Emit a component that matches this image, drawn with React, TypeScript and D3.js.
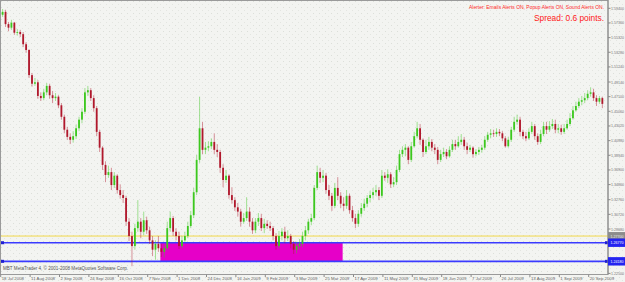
import React from 'react';
import * as d3 from 'd3';

const firstOpen = 1.585;
const closes = [
1.589,1.572,1.567,1.574,1.560,1.561,1.558,1.544,1.536,1.501,
1.489,1.491,1.472,1.469,1.477,1.486,1.473,1.469,1.471,1.459,
1.443,1.425,1.415,1.411,1.416,1.427,1.439,1.450,1.477,1.480,
1.469,1.455,1.422,1.400,1.376,1.362,1.366,1.348,1.361,1.341,
1.334,1.330,1.297,1.277,1.263,1.288,1.297,1.283,1.299,1.285,
1.271,1.258,1.266,1.260,1.255,1.260,1.288,1.302,1.283,1.277,
1.263,1.271,1.277,1.291,1.306,1.338,1.383,1.427,1.397,1.400,
1.402,1.408,1.397,1.394,1.372,1.355,1.361,1.334,1.327,1.317,
1.311,1.297,1.302,1.311,1.297,1.285,1.297,1.302,1.288,1.294,
1.291,1.288,1.277,1.263,1.277,1.283,1.274,1.277,1.266,1.258,
1.263,1.266,1.277,1.285,1.297,1.302,1.344,1.366,1.358,1.361,
1.341,1.333,1.319,1.344,1.333,1.322,1.319,1.333,1.313,1.302,
1.294,1.308,1.316,1.322,1.330,1.334,1.338,1.341,1.333,1.361,
1.358,1.363,1.349,1.352,1.369,1.391,1.397,1.400,1.383,1.402,
1.416,1.427,1.411,1.394,1.402,1.408,1.400,1.397,1.383,1.391,
1.394,1.388,1.397,1.405,1.402,1.408,1.411,1.402,1.397,1.400,
1.391,1.394,1.397,1.400,1.411,1.418,1.420,1.419,1.422,1.420,
1.413,1.402,1.411,1.425,1.436,1.439,1.422,1.416,1.413,1.422,
1.430,1.416,1.408,1.419,1.430,1.425,1.430,1.433,1.425,1.427,
1.422,1.427,1.433,1.441,1.452,1.458,1.464,1.466,1.469,1.475,
1.477,1.469,1.464,1.469,1.461];
const highs = [
1.593,1.592,1.575,1.578,1.575,1.565,1.564,1.561,1.547,1.537,
1.504,1.497,1.494,1.477,1.482,1.490,1.489,1.479,1.476,1.473,
1.462,1.446,1.429,1.420,1.423,1.432,1.443,1.455,1.483,1.486,
1.483,1.473,1.458,1.425,1.402,1.381,1.375,1.372,1.366,1.363,
1.349,1.341,1.333,1.302,1.283,1.294,1.327,1.302,1.311,1.304,
1.290,1.277,1.271,1.277,1.266,1.265,1.297,1.311,1.305,1.288,
1.283,1.277,1.283,1.297,1.312,1.344,1.390,1.471,1.436,1.408,
1.409,1.413,1.420,1.405,1.397,1.377,1.369,1.363,1.345,1.331,
1.323,1.315,1.309,1.331,1.317,1.302,1.302,1.309,1.308,1.301,
1.299,1.297,1.291,1.281,1.284,1.288,1.290,1.285,1.280,1.270,
1.269,1.273,1.283,1.291,1.301,1.308,1.348,1.375,1.372,1.369,
1.365,1.348,1.337,1.351,1.359,1.338,1.331,1.341,1.336,1.319,
1.308,1.313,1.323,1.329,1.334,1.340,1.344,1.348,1.345,1.369,
1.366,1.370,1.366,1.359,1.375,1.397,1.402,1.405,1.402,1.408,
1.422,1.436,1.433,1.413,1.411,1.415,1.412,1.405,1.401,1.397,
1.400,1.398,1.402,1.411,1.411,1.416,1.419,1.415,1.407,1.404,
1.402,1.398,1.401,1.404,1.416,1.422,1.426,1.425,1.427,1.426,
1.423,1.416,1.415,1.429,1.443,1.446,1.443,1.425,1.422,1.427,
1.436,1.433,1.420,1.425,1.436,1.436,1.437,1.440,1.439,1.433,
1.432,1.433,1.439,1.448,1.458,1.464,1.469,1.472,1.476,1.480,
1.484,1.482,1.473,1.472,1.471];
const lows = [
1.582,1.568,1.562,1.564,1.557,1.556,1.554,1.540,1.532,1.497,
1.485,1.486,1.468,1.465,1.466,1.473,1.468,1.462,1.465,1.455,
1.439,1.420,1.411,1.405,1.407,1.412,1.423,1.434,1.447,1.472,
1.465,1.450,1.416,1.394,1.369,1.352,1.358,1.341,1.344,1.336,
1.329,1.323,1.291,1.270,1.235,1.258,1.283,1.274,1.278,1.280,
1.266,1.249,1.244,1.255,1.248,1.247,1.258,1.283,1.277,1.271,
1.259,1.260,1.269,1.274,1.288,1.302,1.334,1.379,1.391,1.391,
1.395,1.398,1.391,1.387,1.365,1.345,1.351,1.329,1.322,1.312,
1.304,1.290,1.294,1.298,1.290,1.280,1.281,1.291,1.284,1.281,
1.287,1.284,1.271,1.258,1.260,1.271,1.267,1.270,1.260,1.252,
1.253,1.258,1.262,1.271,1.280,1.292,1.299,1.341,1.351,1.352,
1.336,1.327,1.312,1.316,1.327,1.316,1.312,1.315,1.308,1.297,
1.288,1.290,1.304,1.312,1.317,1.324,1.329,1.333,1.327,1.330,
1.354,1.351,1.344,1.345,1.348,1.366,1.387,1.388,1.377,1.380,
1.400,1.413,1.404,1.387,1.391,1.397,1.395,1.391,1.377,1.380,
1.387,1.384,1.386,1.394,1.397,1.400,1.404,1.397,1.391,1.394,
1.386,1.388,1.390,1.393,1.397,1.408,1.413,1.415,1.415,1.416,
1.409,1.400,1.400,1.408,1.422,1.432,1.416,1.412,1.409,1.411,
1.419,1.411,1.404,1.405,1.416,1.419,1.422,1.426,1.420,1.420,
1.418,1.419,1.425,1.430,1.439,1.450,1.455,1.459,1.462,1.466,
1.471,1.465,1.458,1.461,1.455];

const dateLabels = ['18 Jul 2008','11 Aug 2008','2 Sep 2008','24 Sep 2008','16 Oct 2008','7 Nov 2008','1 Dec 2008','24 Dec 2008','16 Jan 2009','9 Feb 2009','3 Mar 2009','25 Mar 2009','17 Apr 2009','11 May 2009','31 May 2009','18 Jun 2009','7 Jul 2009','26 Jul 2009','13 Aug 2009','1 Sep 2009','20 Sep 2009'];
const barsPerLabel = 10;
const priceTicks = [1.594,1.5736,1.5532,1.5328,1.5124,1.4914,1.471,1.4506,1.4302,1.4098,1.3894,1.369,1.3486,1.3276,1.3072,1.2868];
const bottomTick = 1.225;
const yellowLevel = 1.277;
const blueLevels = [1.2677, 1.2418];
const zoneBars = [54, 116];
const zonePrices = [1.2677, 1.2418];
const alertText = 'Alerter:  Emails Alerts ON,  Popup Alerts ON,  Sound Alerts ON.';
const spreadText = 'Spread: 0.6 points.';
const copyright = 'MBT MetaTrader 4, \u00A9 2001-2008 MetaQuotes Software Corp.';

const W = 625, H = 282;
const plotRight = 608, plotBottom = 274.5;
const FONT = '"Liberation Sans", Arial, sans-serif';

export default function App() {
  const x = d3.scaleLinear().domain([0, 200]).range([2.6, 590.6]);
  const y = d3.scaleLinear().domain([1.225, 1.594]).range([273.4, 8.3]);
  const opens = [firstOpen, ...closes.slice(0, -1)];
  const bull = '#3cc81e', bear = '#b0182c';
  const fmt = d3.format('.5f');
  return (
    <svg width={W} height={H} style={{ position: 'absolute', left: 0, top: 0 }} fontFamily={FONT}>
      <defs>
        <pattern id="dots" width="6" height="6" patternUnits="userSpaceOnUse">
          <rect width="6" height="6" fill="#f3f4f1" />
          <rect x="1" y="1" width="1" height="1" fill="#dcdfd9" />
          <rect x="4" y="4" width="1" height="1" fill="#e3e5e0" />
        </pattern>
      </defs>
      <rect width={W} height={H} fill="url(#dots)" />
      <rect x={0.5} y={0.5} width={plotRight - 0.5} height={plotBottom - 0.5} fill="none" stroke="#9a9a9a" strokeWidth={1} />
      <rect x={x(zoneBars[0]) - 1} y={y(zonePrices[0])} width={x(zoneBars[1]) - x(zoneBars[0])} height={y(zonePrices[1]) - y(zonePrices[0])} fill="#e600c8" />
      <line x1={1} x2={plotRight} y1={y(yellowLevel)} y2={y(yellowLevel)} stroke="#f2d84a" strokeWidth={1} />
      {blueLevels.map((v, i) => (
        <g key={i}>
          <line x1={1} x2={plotRight} y1={y(v)} y2={y(v)} stroke="#3a3aff" strokeWidth={1.6} />
          <rect x={1} y={y(v) - 1.5} width={3} height={3} fill="#2020d0" />
          <rect x={plotRight - 3} y={y(v) - 1.5} width={3} height={3} fill="#2020d0" />
        </g>
      ))}
      {closes.map((c, i) => {
        const o = opens[i];
        const up = c >= o;
        const col = up ? bull : bear;
        const cx = x(i);
        const top = y(Math.max(o, c));
        const bot = y(Math.min(o, c));
        return (
          <g key={i}>
            <line x1={cx} x2={cx} y1={y(highs[i])} y2={y(lows[i])} stroke={col} strokeOpacity={0.45} strokeWidth={1} />
            <rect x={cx - 0.9} y={top} width={1.8} height={Math.max(0.8, bot - top)} fill={col} />
          </g>
        );
      })}
      <line x1={plotRight} x2={plotRight} y1={0} y2={plotBottom} stroke="#8a8a8a" strokeWidth={1} />
      {[...priceTicks, bottomTick].map((v, i) => (
        <g key={i}>
          <line x1={plotRight} x2={plotRight + 2.5} y1={y(v)} y2={y(v)} stroke="#8a8a8a" />
          <text x={611} y={y(v) + 1.5} fontSize={4.1} fill="#777" textLength={13} lengthAdjust="spacingAndGlyphs">{fmt(v)}</text>
        </g>
      ))}
      <rect x={plotRight} y={y(yellowLevel) - 4} width={17} height={7.5} fill="#8c8c8c" />
      <text x={610.5} y={y(yellowLevel) + 1.5} fontSize={4.1} fill="#e8e8e8" textLength={13} lengthAdjust="spacingAndGlyphs">{fmt(yellowLevel)}</text>
      {blueLevels.map((v, i) => (
        <g key={'t' + i}>
          <rect x={plotRight} y={y(v) - 4.2} width={17} height={8.4} fill="#2424f0" />
          <text x={610.5} y={y(v) + 1.6} fontSize={4.3} fill="#ffffff" textLength={13} lengthAdjust="spacingAndGlyphs">{fmt(v)}</text>
        </g>
      ))}
      {dateLabels.map((d, k) => {
        const tx = x(k * barsPerLabel) - 0.9;
        return (
          <g key={d}>
            <line x1={tx - 1} x2={tx - 1} y1={plotBottom} y2={plotBottom + 2.5} stroke="#8a8a8a" />
            <text x={tx} y={280} fontSize={4.3} fill="#666">{d}</text>
          </g>
        );
      })}
      <text x={3} y={270} fontSize={4.6} fill="#555" textLength={125} lengthAdjust="spacingAndGlyphs">{copyright}</text>
      <text x={469} y={8.5} fontSize={5} fill="#ff2a2a" textLength={135} lengthAdjust="spacingAndGlyphs">{alertText}</text>
      <text x={534} y={21} fontSize={9.5} fill="#ff2020" textLength={70} lengthAdjust="spacingAndGlyphs">{spreadText}</text>
    </svg>
  );
}
